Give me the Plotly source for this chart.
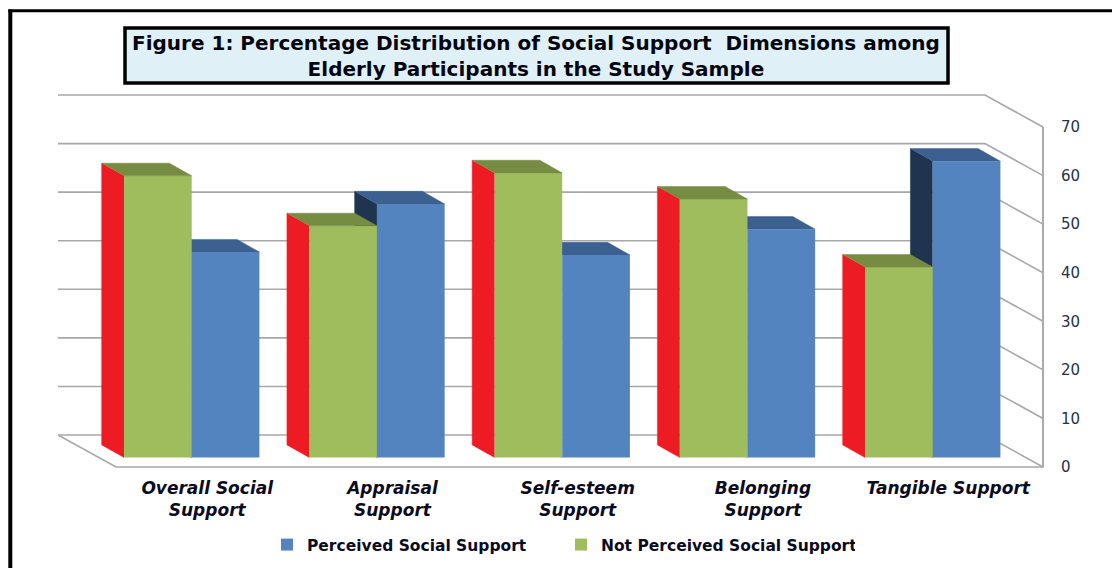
import plotly.graph_objects as go

categories = ["Overall Social<br>Support", "Appraisal<br>Support", "Self-esteem<br>Support",
              "Belonging<br>Support", "Tangible Support"]
not_perceived = [58.0, 47.7, 58.6, 53.2, 39.2]
perceived = [42.3, 52.2, 41.7, 47.0, 61.0]
axis_ticks = [0, 10, 20, 30, 40, 50, 60, 70]

W, H, PLOT_BOTTOM = 1112, 568, 478
PX_X = 185.25          # pixels per category
PX_Y = 4.857           # pixels per value unit
X0_PX, Y0_PX = 191.7, 457.5   # position of category 0 / value 0 at the bars' front
BAR_W = 67.7 / PX_X
DX, DY = 22.3 / PX_X, 12.6 / PX_Y   # bar depth
BACK_X, BACK_Y = (1043 - 985) / PX_X, (467 - 435) / PX_Y  # wall depth
FRONT_Y = (467 - Y0_PX) / PX_Y
RIGHT_X = (1043 - X0_PX) / PX_X
LEFT_BACK_X = (58 - X0_PX) / PX_X

GREEN, GREEN_TOP = "#9FBD5D", "#768C42"
RED = "#ED1C24"
BLUE, BLUE_TOP, BLUE_SIDE = "#5384C0", "#3C6090", "#1F354F"
GRID = "#A8A8A8"
FONT = "DejaVu Sans"
TEXT = "#0B0B1E"


def px(x):
    return x / W


def py(y):
    return 1 - y / PLOT_BOTTOM


fig = go.Figure()

# walls and floor, built from the axis ticks
gx, gy = [], []
for t in axis_ticks:
    gx += [LEFT_BACK_X, RIGHT_X - BACK_X, RIGHT_X, None]
    gy += [t - FRONT_Y + BACK_Y, t - FRONT_Y + BACK_Y, t - FRONT_Y, None]
gx += [LEFT_BACK_X, LEFT_BACK_X + BACK_X, RIGHT_X, RIGHT_X]
gy += [-FRONT_Y + BACK_Y, -FRONT_Y, -FRONT_Y, axis_ticks[-1] - FRONT_Y]
fig.add_trace(go.Scatter(x=gx, y=gy, mode="lines", line=dict(color=GRID, width=1.6),
                         showlegend=False, hoverinfo="skip", zorder=0))

# carrier for the right-hand value axis
fig.add_trace(go.Scatter(x=[RIGHT_X] * len(axis_ticks), y=axis_ticks, yaxis="y2", mode="lines",
                         line=dict(color=GRID, width=1.6), showlegend=False, hoverinfo="skip"))


def poly(xs, ys, color, z):
    fig.add_trace(go.Scatter(x=xs, y=ys, mode="lines", fill="toself", fillcolor=color,
                             line=dict(color=color, width=0.5), showlegend=False,
                             hoverinfo="skip", zorder=z))


for i, (g, b) in enumerate(zip(not_perceived, perceived)):
    gl, gr = i - BAR_W, i
    bl, br = i, i + BAR_W
    # blue side and top
    poly([bl, bl - DX, bl - DX, bl], [0, DY, b + DY, b], BLUE_SIDE, 1)
    poly([bl, br, br - DX, bl - DX], [b, b, b + DY, b + DY], BLUE_TOP, 1)
    # green side and top
    poly([gl, gl - DX, gl - DX, gl], [0, DY, g + DY, g], RED, 3)
    poly([gl, gr, gr - DX, gl - DX], [g, g, g + DY, g + DY], GREEN_TOP, 3)

x_idx = list(range(len(categories)))
fig.add_trace(go.Bar(x=x_idx, y=not_perceived, name="Not Perceived Social Support",
                     marker=dict(color=GREEN, line=dict(width=0)), legendrank=2, zorder=3,
                     width=BAR_W, offset=-BAR_W))
fig.add_trace(go.Bar(x=x_idx, y=perceived, name="Perceived Social Support",
                     marker=dict(color=BLUE, line=dict(width=0)), legendrank=1, zorder=2,
                     width=BAR_W, offset=0))

LABEL_SHIFT = 15.5 / PX_X
fig.update_layout(
    width=W, height=H, autosize=False,
    margin=dict(l=0, r=0, t=0, b=H - PLOT_BOTTOM, pad=0),
    paper_bgcolor="white", plot_bgcolor="white",
    barmode="overlay",
    xaxis=dict(range=[-X0_PX / PX_X, (W - X0_PX) / PX_X], showgrid=False, zeroline=False,
               showline=False, ticks="", tickmode="array",
               tickvals=[i + LABEL_SHIFT for i in x_idx], ticktext=categories,
               tickfont=dict(family=FONT, size=17, color=TEXT, weight="bold", style="italic"),
               tickangle=0, ticklabelstandoff=-2),
    yaxis=dict(range=[-(PLOT_BOTTOM - Y0_PX) / PX_Y, Y0_PX / PX_Y], showgrid=False,
               zeroline=False, showline=False, showticklabels=False, ticks=""),
    yaxis2=dict(overlaying="y", anchor="free", side="right", position=1060 / W,
                range=[-(PLOT_BOTTOM - 467) / PX_Y, 467 / PX_Y], showgrid=False, zeroline=False,
                showline=False, ticks="", tickmode="array", tickvals=axis_ticks,
                tickfont=dict(family=FONT, size=15, color="#26324A")),
    legend=dict(orientation="h", x=px(267), y=py(545), xanchor="left", yanchor="middle",
                font=dict(family=FONT, size=15.5, color=TEXT, weight="bold"),
                entrywidth=249, entrywidthmode="pixels",
                bgcolor="rgba(0,0,0,0)", itemclick=False, itemdoubleclick=False),
    showlegend=True,
    shapes=[
        dict(type="line", xref="paper", yref="paper", x0=px(10.3), x1=px(10.3), y0=py(9.5), y1=py(568),
             line=dict(color="black", width=4)),
        dict(type="line", xref="paper", yref="paper", x0=px(8.3), x1=px(1112), y0=py(10.8), y1=py(10.8),
             line=dict(color="black", width=3)),
        dict(type="rect", xref="paper", yref="paper", x0=px(125), x1=px(948), y0=py(28), y1=py(83),
             fillcolor="#DFF0F7", line=dict(color="black", width=3.5)),
    ],
    annotations=[
        dict(text="<b>Figure 1: Percentage Distribution of Social Support  Dimensions among<br>"
                  "Elderly Participants in the Study Sample</b>",
             xref="paper", yref="paper", x=px(536), y=py(56), xanchor="center", yanchor="middle",
             showarrow=False, align="center", font=dict(family=FONT, size=20, color="#050510")),
    ],
)

fig.write_html("out.html", post_script="document.body.style.margin='0';",
               config=dict(displayModeBar=False))
